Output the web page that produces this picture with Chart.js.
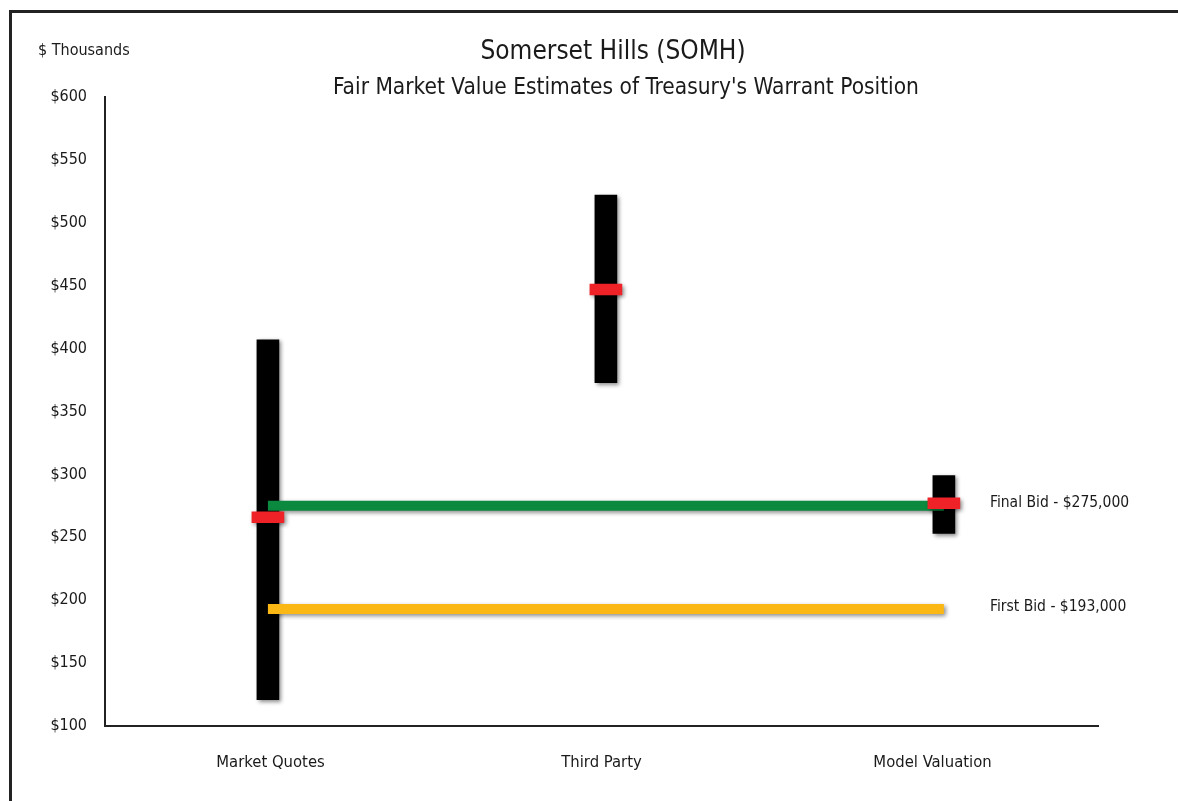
<!DOCTYPE html>
<html>
<head>
<meta charset="utf-8">
<script src="https://cdn.jsdelivr.net/npm/chart.js@4"></script>
<style>
  html, body { margin: 0; padding: 0; background: #fff; overflow: hidden; }
  #frame { position: absolute; left: 9px; top: 10px; width: 1200px; height: 830px; border: 3px solid #222; }
  #wrap { position: absolute; left: 0; top: 0; width: 1178px; height: 801px; }
</style>
</head>
<body>
<div id="frame"></div>
<div id="wrap"><canvas id="chart" width="1178" height="801"></canvas></div>
<script>
// data
const categories = ['Market Quotes', 'Third Party', 'Model Valuation'];
const rangeLow  = [121, 373, 253];
const rangeHigh = [407, 522, 299];
const midValue  = [266, 447, 277];
const finalBid = 275;
const firstBid = 193;
const yTicks = [100, 150, 200, 250, 300, 350, 400, 450, 500, 550, 600];

const FONT = '"Liberation Sans Narrow", "DejaVu Sans Condensed", sans-serif';
const MARK_HALF = 4.3; // half height of the red marker, in $ thousands

const rangeBars = categories.map((c, i) => ({ x: i, y: [rangeLow[i], rangeHigh[i]] }));
const markBars = categories.map((c, i) => ({ x: i, y: [midValue[i] - MARK_HALF, midValue[i] + MARK_HALF] }));
const last = categories.length - 1;

// soft drop shadow under every mark
const shadowPlugin = {
    id: 'shadow',
    beforeDatasetDraw(chart) {
        const ctx = chart.ctx;
        ctx.save();
        ctx.shadowColor = 'rgba(0,0,0,0.45)';
        ctx.shadowBlur = 4;
        ctx.shadowOffsetX = 2;
        ctx.shadowOffsetY = 2;
    },
    afterDatasetDraw(chart) { chart.ctx.restore(); }
};

// titles and bid labels
const textPlugin = {
    id: 'texts',
    afterDraw(chart) {
        const ctx = chart.ctx;
        const y = chart.scales.y;
        ctx.save();
        ctx.fillStyle = '#1a1a1a';
        ctx.textAlign = 'center';
        ctx.textBaseline = 'alphabetic';
        ctx.font = '26px ' + FONT;
        ctx.fillText('Somerset Hills (SOMH)', 613, 59);
        ctx.font = '22.5px ' + FONT;
        ctx.fillText("Fair Market Value Estimates of Treasury's Warrant Position", 626, 94);
        ctx.textAlign = 'left';
        ctx.font = '16px ' + FONT;
        ctx.fillText('$ Thousands', 38, 55);
        ctx.textBaseline = 'middle';
        ctx.font = '15.5px ' + FONT;
        ctx.fillText('Final Bid - $' + (finalBid * 1000).toLocaleString('en-US'), 990, y.getPixelForValue(finalBid) - 3);
        ctx.fillText('First Bid - $' + (firstBid * 1000).toLocaleString('en-US'), 990, y.getPixelForValue(firstBid) - 2);
        ctx.restore();
    }
};

new Chart(document.getElementById('chart'), {
    type: 'bar',
    data: {
        labels: categories,
        datasets: [
            { type: 'bar', data: rangeBars, xAxisID: 'x2', backgroundColor: '#000', barThickness: 22, grouped: false, order: 3 },
            { type: 'line', data: [{ x: 0, y: finalBid }, { x: last, y: finalBid }], xAxisID: 'x2',
              borderColor: '#0b8a3f', borderWidth: 10, borderCapStyle: 'butt', pointRadius: 0, order: 2 },
            { type: 'line', data: [{ x: 0, y: firstBid }, { x: last, y: firstBid }], xAxisID: 'x2',
              borderColor: '#fbb815', borderWidth: 10, borderCapStyle: 'butt', pointRadius: 0, order: 2 },
            { type: 'bar', data: markBars, xAxisID: 'x2', backgroundColor: '#ee2227', barThickness: 32, grouped: false, order: 1 }
        ]
    },
    options: {
        responsive: false,
        animation: false,
        layout: { padding: { top: 97, right: 80, left: 0, bottom: 0 } },
        plugins: { legend: { display: false }, tooltip: { enabled: false }, title: { display: false } },
        scales: {
            x: {
                type: 'category', offset: true,
                grid: { display: false, drawTicks: false },
                border: { display: true, color: '#222', width: 2 },
                ticks: { color: '#1a1a1a', font: { family: FONT, size: 16.5 }, padding: 27, maxRotation: 0 },
                afterFit(s) { s.height = 75; }
            },
            x2: { type: 'linear', display: false, offset: false, min: -0.482, max: 2.456 },
            y: {
                min: 100, max: 600,
                afterBuildTicks(s) { s.ticks = yTicks.map(v => ({ value: v })); },
                grid: { display: false, drawTicks: false },
                border: { display: true, color: '#222', width: 2 },
                ticks: { color: '#1a1a1a', font: { family: FONT, size: 16 }, padding: 18, callback: v => '$' + v },
                afterFit(s) { s.width = 105; }
            }
        }
    },
    plugins: [shadowPlugin, textPlugin]
});
</script>
</body>
</html>
